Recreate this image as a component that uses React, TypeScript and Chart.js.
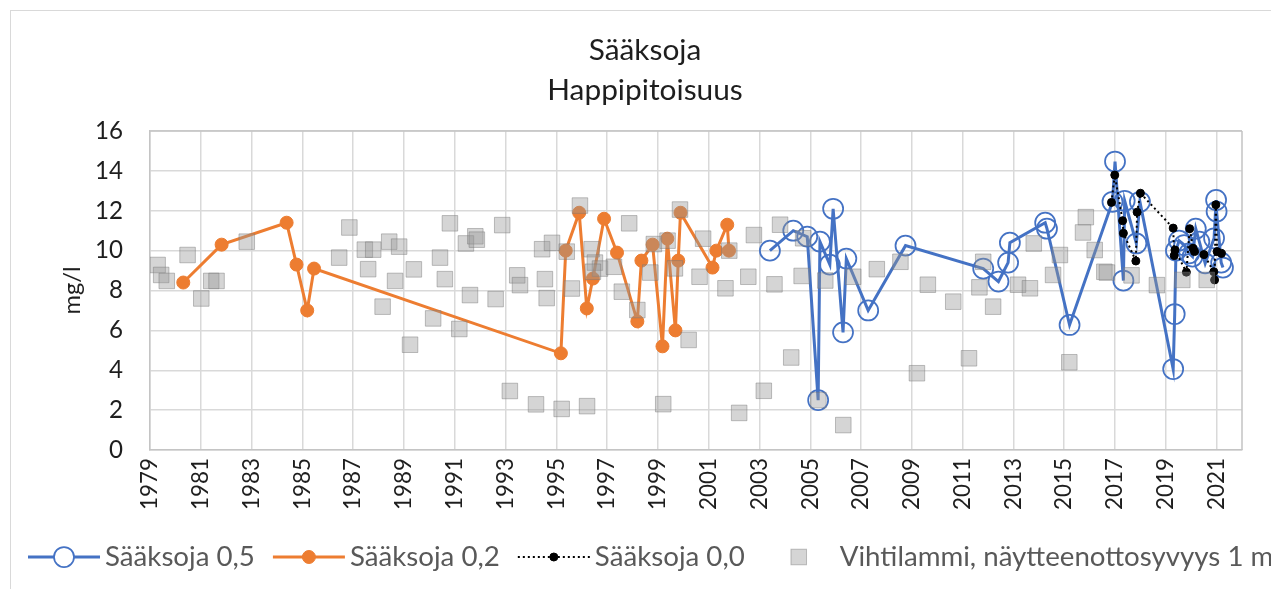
import React, { useEffect, useRef } from 'react';
import { Chart, registerables } from 'chart.js';

Chart.register(...registerables);

// ---------- DATA ----------
const chartTitle = ['Sääksoja', 'Happipitoisuus'];
const yAxisTitle = 'mg/l';
const seriesLabels = ['Sääksoja 0,5', 'Sääksoja 0,2', 'Sääksoja 0,0', 'Vihtilammi, näytteenottosyvyys 1 m'];
const xTickYears = [1979, 1981, 1983, 1985, 1987, 1989, 1991, 1993, 1995, 1997, 1999, 2001, 2003, 2005, 2007, 2009, 2011, 2013, 2015, 2017, 2019, 2021];
const xMin = 1979;
const xMax = 2022;
const yMin = 0;
const yMax = 16;
const yStep = 2;

// Sääksoja 0,5
const s05X = [2003.41, 2004.33, 2004.88, 2005.31, 2005.38, 2005.77, 2005.9, 2006.29, 2006.42, 2007.28, 2008.75, 2011.81, 2012.41, 2012.79, 2012.86, 2014.25, 2014.32, 2015.21, 2016.9, 2017.0, 2017.33, 2017.38, 2017.84, 2017.98, 2019.29, 2019.35, 2019.4, 2019.52, 2019.72, 2019.92, 2020.05, 2020.18, 2020.32, 2020.55, 2020.9, 2020.98, 2021.0, 2021.18, 2021.25];
const s05Y = [10.0, 11.0, 10.7, 2.5, 10.45, 9.3, 12.1, 5.9, 9.6, 7.0, 10.25, 9.1, 8.45, 9.4, 10.4, 11.4, 11.1, 6.27, 12.45, 14.47, 8.5, 12.5, 10.36, 12.45, 4.06, 6.82, 10.0, 10.5, 10.28, 9.86, 9.7, 11.1, 10.45, 9.36, 10.62, 12.54, 11.96, 9.4, 9.15];

// Sääksoja 0,2
const s02X = [1980.31, 1981.82, 1984.38, 1984.77, 1985.19, 1985.46, 1995.18, 1995.37, 1995.9, 1996.2, 1996.44, 1996.88, 1997.39, 1998.19, 1998.35, 1998.79, 1999.18, 1999.37, 1999.69, 1999.8, 1999.89, 2001.15, 2001.3, 2001.73, 2001.8];
const s02Y = [8.4, 10.3, 11.4, 9.3, 7.0, 9.1, 4.85, 10.0, 11.9, 7.1, 8.6, 11.6, 9.9, 6.45, 9.5, 10.3, 5.2, 10.6, 6.0, 9.5, 11.9, 9.15, 10.0, 11.3, 10.0];

// Sääksoja 0,0
const s00X = [2016.86, 2016.99, 2017.3, 2017.33, 2017.82, 2017.87, 2018.0, 2019.29, 2019.33, 2019.36, 2019.81, 2019.94, 2020.07, 2020.13, 2020.5, 2020.89, 2020.92, 2020.97, 2021.02, 2021.19];
const s00Y = [12.42, 13.79, 11.5, 10.87, 9.48, 11.93, 12.88, 11.13, 9.75, 10.03, 8.92, 11.1, 10.12, 9.95, 9.8, 8.94, 8.53, 12.3, 9.95, 9.86];

// Vihtilammi, näytteenottosyvyys 1 m
const vihX = [1979.3, 1979.44, 1979.66, 1980.48, 1981.02, 1981.41, 1981.62, 1982.81, 1986.45, 1986.85, 1987.46, 1987.79, 1987.59, 1988.42, 1988.81, 1988.65, 1988.16, 1989.24, 1989.39, 1990.42, 1990.61, 1990.15, 1990.81, 1991.44, 1991.81, 1991.87, 1991.6, 1991.18, 1992.61, 1992.87, 1993.17, 1993.46, 1993.57, 1994.2, 1994.44, 1994.83, 1994.55, 1994.62, 1995.21, 1995.61, 1995.93, 1995.41, 1996.21, 1996.39, 1996.52, 1996.72, 1996.44, 1997.27, 1997.87, 1997.58, 1998.19, 1998.7, 1998.84, 1999.21, 1999.38, 1999.67, 1999.87, 2000.21, 2000.64, 2000.78, 2001.66, 2001.81, 2002.2, 2002.56, 2002.78, 2003.17, 2003.59, 2003.81, 2004.25, 2004.66, 2004.72, 2005.32, 2005.59, 2006.3, 2006.69, 2007.62, 2008.55, 2009.2, 2009.63, 2010.63, 2011.25, 2011.81, 2011.66, 2012.2, 2013.18, 2013.65, 2013.8, 2014.56, 2014.83, 2015.2, 2015.85, 2015.74, 2016.2, 2016.58, 2016.68, 2017.65, 2018.65, 2019.65, 2020.61];
const vihY = [9.28, 8.78, 8.48, 9.78, 7.6, 8.48, 8.48, 10.45, 9.65, 11.16, 10.05, 10.05, 9.07, 10.45, 10.2, 8.48, 7.19, 5.28, 9.06, 9.65, 8.57, 6.6, 11.37, 10.36, 10.72, 10.55, 7.77, 6.07, 7.57, 11.28, 2.96, 8.76, 8.27, 2.29, 10.07, 10.39, 8.57, 7.62, 2.06, 8.1, 12.26, 9.95, 2.2, 10.07, 9.4, 9.1, 8.94, 9.19, 11.37, 7.94, 7.02, 8.9, 10.33, 2.3, 10.5, 9.11, 12.06, 5.52, 8.69, 10.6, 8.11, 10.0, 1.86, 8.69, 10.78, 2.97, 8.31, 11.3, 4.64, 8.73, 10.62, 2.5, 8.5, 1.25, 8.69, 9.07, 9.44, 3.85, 8.29, 7.44, 4.6, 9.44, 8.16, 7.19, 8.29, 8.11, 10.36, 8.78, 9.78, 4.4, 11.68, 10.91, 10.03, 8.94, 8.9, 8.76, 8.27, 8.53, 8.53];

// ---------- STYLE ----------
const FONT = 'Lato, "Open Sans", sans-serif';
const BLUE = '#4472C4';
const ORANGE = '#ED7D31';
const BLACK = '#000000';
const GRID = '#d9d9d9';
const AXIS = '#c4c4c4';
const TEXT = '#1e1e1e';
const LEGEND_TEXT = '#595959';

const W = 1271;
const H = 589;

function fitSize(text: string, width: number): number {
  const c = document.createElement('canvas').getContext('2d');
  if (!c) return 20;
  c.font = `100px ${FONT}`;
  const w = c.measureText(text).width;
  return w > 0 ? (100 * width) / w : 20;
}

const toPts = (xs: number[], ys: number[]) => xs.map((x, i) => ({ x, y: ys[i] }));

export default function App() {
  const ref = useRef<HTMLCanvasElement | null>(null);

  useEffect(() => {
    if (!ref.current) return;
    const titleSize = (fitSize(chartTitle[0], 113) + fitSize(chartTitle[1], 195)) / 2;
    const yTickSize = fitSize('16', 28);
    const xTickSize = fitSize('1979', 52);
    const legendSize = fitSize(seriesLabels[0], 150);
    const yTitleSize = fitSize(yAxisTitle, 48);

    const framePlugin = {
      id: 'frame',
      beforeDraw(chart: any) {
        const ctx = chart.ctx;
        ctx.save();
        ctx.fillStyle = '#ffffff';
        ctx.fillRect(0, 0, chart.width, chart.height);
        ctx.strokeStyle = '#d9d9d9';
        ctx.lineWidth = 1;
        ctx.strokeRect(10.5, 10.5, chart.width + 20, chart.height + 20);
        // chart title (centred over the whole chart box, like Excel)
        ctx.fillStyle = TEXT;
        ctx.font = `${titleSize}px ${FONT}`;
        ctx.textAlign = 'center';
        ctx.textBaseline = 'middle';
        chartTitle.forEach((t, i) => ctx.fillText(t, 645, 50 + i * 40));
        ctx.restore();
      },
      beforeDatasetsDraw(chart: any) {
        const { ctx, chartArea } = chart;
        ctx.save();
        ctx.strokeStyle = AXIS;
        ctx.lineWidth = 1.5;
        ctx.beginPath();
        ctx.moveTo(chartArea.right, chartArea.top);
        ctx.lineTo(chartArea.right, chartArea.bottom);
        ctx.moveTo(chartArea.left, chartArea.top);
        ctx.lineTo(chartArea.right, chartArea.top);
        ctx.stroke();
        ctx.restore();
      },
    };

    const legendPlugin = {
      id: 'excelLegend',
      afterDraw(chart: any) {
        const ctx = chart.ctx;
        const y = 557;
        const sampleW = 72;
        const textGap = 5;
        const itemGap = 18;
        let x = 28;
        ctx.save();
        ctx.font = `${legendSize}px ${FONT}`;
        ctx.textBaseline = 'middle';
        ctx.textAlign = 'left';
        chart.data.datasets.forEach((ds: any) => {
          const cx = x + sampleW / 2;
          if (ds.showLine) {
            ctx.save();
            ctx.strokeStyle = ds.borderColor;
            ctx.lineWidth = ds.borderWidth;
            ctx.setLineDash(ds.borderDash || []);
            ctx.beginPath();
            ctx.moveTo(x, y);
            ctx.lineTo(x + sampleW, y);
            ctx.stroke();
            ctx.restore();
          }
          ctx.save();
          ctx.setLineDash([]);
          if (ds.pointStyle === 'rect') {
            const s = ds.pointRadius * Math.SQRT1_2;
            ctx.fillStyle = ds.pointBackgroundColor;
            ctx.strokeStyle = ds.pointBorderColor;
            ctx.lineWidth = ds.pointBorderWidth;
            ctx.fillRect(cx - s, y - s, 2 * s, 2 * s);
            ctx.strokeRect(cx - s, y - s, 2 * s, 2 * s);
          } else {
            ctx.beginPath();
            ctx.arc(cx, y, ds.pointRadius, 0, Math.PI * 2);
            ctx.fillStyle = ds.pointBackgroundColor === 'rgba(0,0,0,0)' ? '#ffffff' : ds.pointBackgroundColor;
            ctx.fill();
            ctx.strokeStyle = ds.pointBorderColor;
            ctx.lineWidth = ds.pointBorderWidth;
            ctx.stroke();
          }
          ctx.restore();
          ctx.fillStyle = LEGEND_TEXT;
          const tx = x + sampleW + textGap;
          ctx.fillText(ds.label, tx, y);
          x = tx + ctx.measureText(ds.label).width + itemGap;
        });
        ctx.restore();
      },
    };

    const chart = new Chart(ref.current, {
      type: 'scatter',
      data: {
        datasets: [
          {
            label: seriesLabels[0],
            data: toPts(s05X, s05Y),
            showLine: true,
            borderColor: BLUE,
            borderWidth: 3,
            pointStyle: 'circle',
            pointRadius: 10,
            pointHoverRadius: 10,
            pointBorderWidth: 1.75,
            pointBackgroundColor: 'rgba(0,0,0,0)',
            pointBorderColor: BLUE,
            order: 2,
          },
          {
            label: seriesLabels[1],
            data: toPts(s02X, s02Y),
            showLine: true,
            borderColor: ORANGE,
            borderWidth: 3,
            pointStyle: 'circle',
            pointRadius: 6.5,
            pointHoverRadius: 6.5,
            pointBorderWidth: 1,
            pointBackgroundColor: ORANGE,
            pointBorderColor: ORANGE,
            order: 3,
          },
          {
            label: seriesLabels[2],
            data: toPts(s00X, s00Y),
            showLine: true,
            borderColor: BLACK,
            borderWidth: 2,
            borderDash: [2, 3],
            pointStyle: 'circle',
            pointRadius: 4,
            pointHoverRadius: 4,
            pointBorderWidth: 1,
            pointBackgroundColor: BLACK,
            pointBorderColor: BLACK,
            order: 1,
          },
          {
            label: seriesLabels[3],
            data: toPts(vihX, vihY),
            showLine: false,
            pointStyle: 'rect',
            pointRadius: 11,
            pointHoverRadius: 11,
            pointBorderWidth: 1,
            pointBackgroundColor: 'rgba(150,150,150,0.4)',
            pointBorderColor: 'rgba(120,120,120,0.45)',
            order: 0,
          },
        ],
      },
      options: {
        animation: false,
        responsive: false,
        events: [],
        layout: { padding: { top: 131, left: 0, right: W - 1242, bottom: H - 450 - 60 } },
        plugins: {
          legend: { display: false },
          tooltip: { enabled: false },
          title: { display: false },
        },
        scales: {
          x: {
            type: 'linear',
            min: xMin,
            max: xMax,
            afterBuildTicks: (s: any) => {
              s.ticks = xTickYears.map((v) => ({ value: v }));
            },
            afterFit: (s: any) => {
              s.height = 60;
            },
            ticks: {
              autoSkip: false,
              minRotation: 90,
              maxRotation: 90,
              padding: 8,
              color: TEXT,
              font: { family: FONT, size: xTickSize },
              callback: (v: any) => String(v),
            },
            grid: { color: GRID, lineWidth: 1.5, drawTicks: false, tickLength: 0 },
            border: { color: AXIS, width: 1.5 },
          },
          y: {
            type: 'linear',
            min: yMin,
            max: yMax,
            afterFit: (s: any) => {
              s.width = 150;
            },
            ticks: {
              stepSize: yStep,
              padding: 27,
              color: TEXT,
              font: { family: FONT, size: yTickSize },
              callback: (v: any) => String(v),
            },
            title: {
              display: true,
              text: yAxisTitle,
              color: TEXT,
              font: { family: FONT, size: yTitleSize },
              padding: { top: 72 - (yTitleSize * 1.2) / 2, bottom: 0 },
            },
            grid: { color: GRID, lineWidth: 1.5, drawTicks: false, tickLength: 0 },
            border: { color: AXIS, width: 1.5 },
          },
        },
      } as any,
      plugins: [framePlugin, legendPlugin],
    });
    return () => chart.destroy();
  }, []);

  return (
    <div style={{ position: 'fixed', left: 0, top: 0, width: W, height: H, background: '#fff' }}>
      <canvas ref={ref} width={W} height={H} style={{ width: W, height: H, display: 'block' }} />
    </div>
  );
}
